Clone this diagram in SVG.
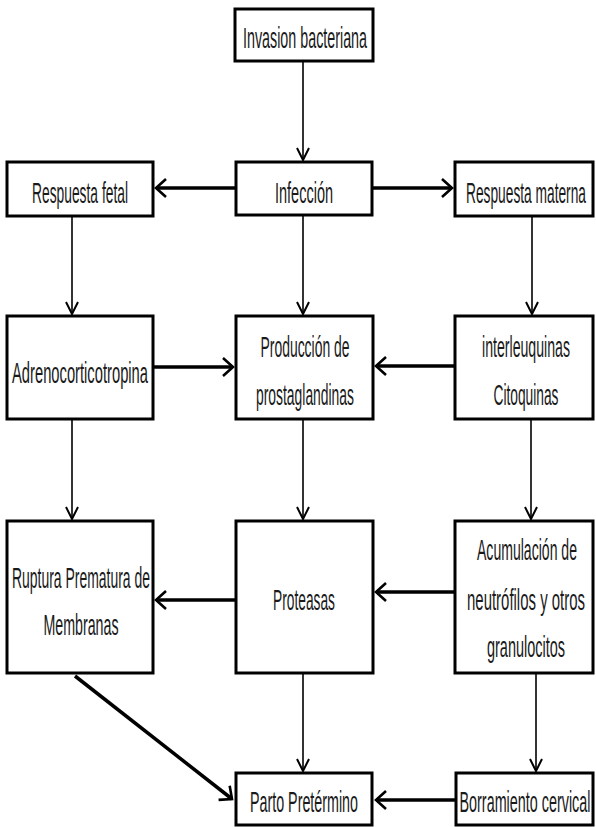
<svg xmlns="http://www.w3.org/2000/svg" width="596" height="827" viewBox="0 0 596 827">
<style>
.box{fill:#fff;stroke:#000;stroke-width:3}
.t{font-family:"Liberation Sans",Arial,sans-serif;font-size:29px;fill:#1a1a1a;text-anchor:middle}
.h{stroke:#000;stroke-width:3.5;fill:none}
.v{stroke:#000;stroke-width:1.6;fill:none}
</style>
<defs>
<marker id="ah" markerUnits="userSpaceOnUse" markerWidth="20" markerHeight="24" refX="11" refY="12" orient="auto">
<path d="M1,3 L11,12 L1,21" fill="none" stroke="#000" stroke-width="2.6"/>
</marker>
<marker id="av" markerUnits="userSpaceOnUse" markerWidth="16" markerHeight="16" refX="13" refY="8" orient="auto">
<path d="M1,2 L13,8 L1,14" fill="none" stroke="#000" stroke-width="2"/>
</marker>
</defs>
<g id="connectors">
<line class="v" x1="303" y1="62" x2="303" y2="160" marker-end="url(#av)"/>
<line class="h" x1="235" y1="188" x2="156" y2="188" marker-end="url(#ah)"/>
<line class="h" x1="373" y1="188" x2="452" y2="188" marker-end="url(#ah)"/>
<line class="v" x1="72" y1="217" x2="72" y2="314" marker-end="url(#av)"/>
<line class="v" x1="303" y1="216" x2="303" y2="314" marker-end="url(#av)"/>
<line class="v" x1="532" y1="216" x2="532" y2="314" marker-end="url(#av)"/>
<line class="h" x1="153" y1="367" x2="233" y2="367" marker-end="url(#ah)"/>
<line class="h" x1="455" y1="366" x2="376" y2="366" marker-end="url(#ah)"/>
<line class="v" x1="72" y1="420" x2="72" y2="519" marker-end="url(#av)"/>
<line class="v" x1="303" y1="420" x2="303" y2="519" marker-end="url(#av)"/>
<line class="v" x1="531" y1="420" x2="531" y2="519" marker-end="url(#av)"/>
<line class="h" x1="236" y1="600" x2="156" y2="600" marker-end="url(#ah)"/>
<line class="h" x1="455" y1="592" x2="376" y2="592" marker-end="url(#ah)"/>
<line class="h" x1="75" y1="676" x2="232" y2="799" marker-end="url(#ah)"/>
<line class="v" x1="303" y1="674" x2="303" y2="771" marker-end="url(#av)"/>
<line class="v" x1="536" y1="674" x2="536" y2="771" marker-end="url(#av)"/>
<line class="h" x1="456" y1="800" x2="376" y2="800" marker-end="url(#ah)"/>
</g>
<g id="invasion"><rect class="box" x="235" y="9" width="138" height="52"/><text class="t" x="305" y="48" textLength="124" lengthAdjust="spacingAndGlyphs">Invasion bacteriana</text></g>
<g id="fetal"><rect class="box" x="7" y="162" width="146" height="54"/><text class="t" x="80" y="203" textLength="96" lengthAdjust="spacingAndGlyphs">Respuesta fetal</text></g>
<g id="infeccion"><rect class="box" x="236" y="162" width="136" height="53"/><text class="t" x="304" y="203" textLength="58" lengthAdjust="spacingAndGlyphs">Infección</text></g>
<g id="materna"><rect class="box" x="455" y="162" width="138" height="54"/><text class="t" x="526" y="203" textLength="120" lengthAdjust="spacingAndGlyphs">Respuesta materna</text></g>
<g id="adreno"><rect class="box" x="7" y="316" width="146" height="103"/><text class="t" x="80" y="383" textLength="136" lengthAdjust="spacingAndGlyphs">Adrenocorticotropina</text></g>
<g id="produccion"><rect class="box" x="236" y="316" width="137" height="103"/><text class="t" x="305" y="357" textLength="89" lengthAdjust="spacingAndGlyphs">Producción de</text><text class="t" x="305" y="405" textLength="98" lengthAdjust="spacingAndGlyphs">prostaglandinas</text></g>
<g id="interleuquinas"><rect class="box" x="455" y="316" width="138" height="103"/><text class="t" x="526" y="357" textLength="88" lengthAdjust="spacingAndGlyphs">interleuquinas</text><text class="t" x="526" y="405" textLength="65" lengthAdjust="spacingAndGlyphs">Citoquinas</text></g>
<g id="ruptura"><rect class="box" x="7" y="521" width="146" height="152"/><text class="t" x="81" y="588" textLength="138" lengthAdjust="spacingAndGlyphs">Ruptura Prematura de</text><text class="t" x="81" y="635" textLength="75" lengthAdjust="spacingAndGlyphs">Membranas</text></g>
<g id="proteasas"><rect class="box" x="236" y="521" width="137" height="152"/><text class="t" x="304" y="610" textLength="62" lengthAdjust="spacingAndGlyphs">Proteasas</text></g>
<g id="acumulacion"><rect class="box" x="455" y="521" width="138" height="152"/><text class="t" x="527" y="560" textLength="100" lengthAdjust="spacingAndGlyphs">Acumulación de</text><text class="t" x="526" y="610" textLength="118" lengthAdjust="spacingAndGlyphs">neutrófilos y otros</text><text class="t" x="526" y="657" textLength="78" lengthAdjust="spacingAndGlyphs">granulocitos</text></g>
<g id="parto"><rect class="box" x="236" y="773" width="136" height="52"/><text class="t" x="304" y="812" textLength="108" lengthAdjust="spacingAndGlyphs">Parto Pretérmino</text></g>
<g id="borramiento"><rect class="box" x="456" y="773" width="137" height="52"/><text class="t" x="525" y="812" textLength="131" lengthAdjust="spacingAndGlyphs">Borramiento cervical</text></g>
</svg>
